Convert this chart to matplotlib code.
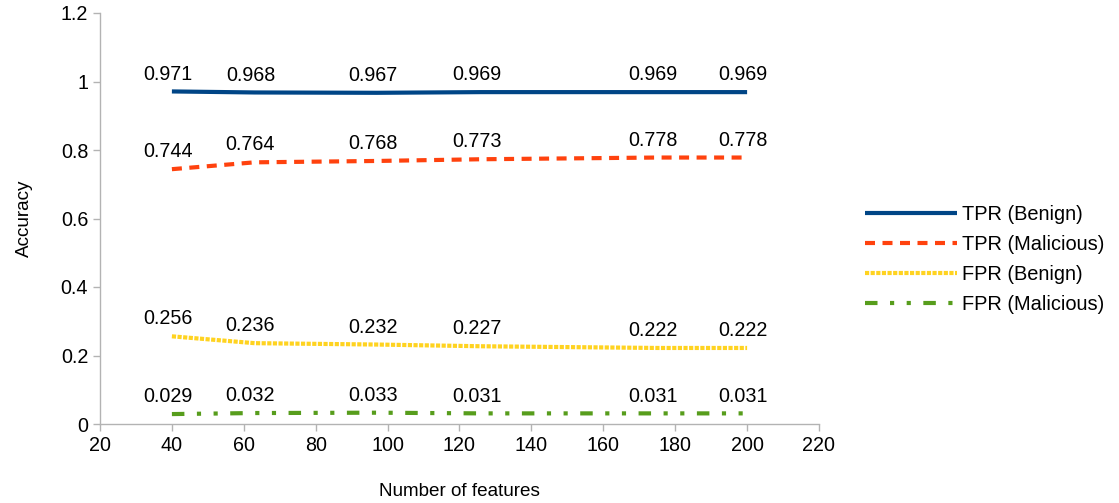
import matplotlib

matplotlib.use("Agg")
import matplotlib.pyplot as plt
from matplotlib.ticker import FuncFormatter

plt.rcParams["font.family"] = ["Liberation Sans", "DejaVu Sans"]

# ── Data ─────────────────────────────────────────────────────────────────────
n_features = [40, 63, 97, 126, 175, 200]
tpr_benign = [0.971, 0.968, 0.967, 0.969, 0.969, 0.969]
tpr_malicious = [0.744, 0.764, 0.768, 0.773, 0.778, 0.778]
fpr_benign = [0.256, 0.236, 0.232, 0.227, 0.222, 0.222]
fpr_malicious = [0.029, 0.032, 0.033, 0.031, 0.031, 0.031]

series = [
    ("TPR (Benign)", tpr_benign, "#004586", "-"),
    ("TPR (Malicious)", tpr_malicious, "#ff420e", (0, (2.4, 1.8))),
    ("FPR (Benign)", fpr_benign, "#ffd320", (0, (1, 0.35))),
    ("FPR (Malicious)", fpr_malicious, "#579d1c", (0, (3, 3, 1, 3, 1, 3))),
]

W, H = 1119, 503
fig = plt.figure(figsize=(W / 100, H / 100), dpi=100)
ax = fig.add_axes([100 / W, (H - 424) / H, 719 / W, 411 / H])

for name, vals, color, ls in series:
    ax.plot(n_features, vals, color=color, linestyle=ls, linewidth=3, label=name,
            solid_capstyle="butt", dash_capstyle="butt")
    for x, v in zip(n_features, vals):
        ax.annotate(f"{v:.3f}", (x, v), xytext=(-3, 12.5), textcoords="offset points",
                    ha="center", va="center", fontsize=14.2, color="#000000")

ax.set_xlim(20, 220)
ax.set_ylim(0, 1.2)
ax.set_xticks(range(20, 221, 20))
ax.set_yticks([0, 0.2, 0.4, 0.6, 0.8, 1.0, 1.2])
ax.yaxis.set_major_formatter(FuncFormatter(lambda v, p: f"{v:g}"))

for s in ["top", "right"]:
    ax.spines[s].set_visible(False)
for s in ["left", "bottom"]:
    ax.spines[s].set_color("#b3b3b3")
    ax.spines[s].set_linewidth(1)
ax.tick_params(colors="#b3b3b3", labelcolor="#000000", labelsize=14.2, length=5, width=1)

ax.set_xlabel("Number of features", fontsize=13.6, labelpad=20)
ax.set_ylabel("Accuracy", fontsize=13.6, labelpad=20)

fig.legend(loc="center left", bbox_to_anchor=((863 - 16) / W, 1 - 259.5 / H),
           frameon=False, fontsize=14.4, handlelength=4.6, handletextpad=0.25,
           labelspacing=0.55)

fig.savefig("out.png", dpi=100)
